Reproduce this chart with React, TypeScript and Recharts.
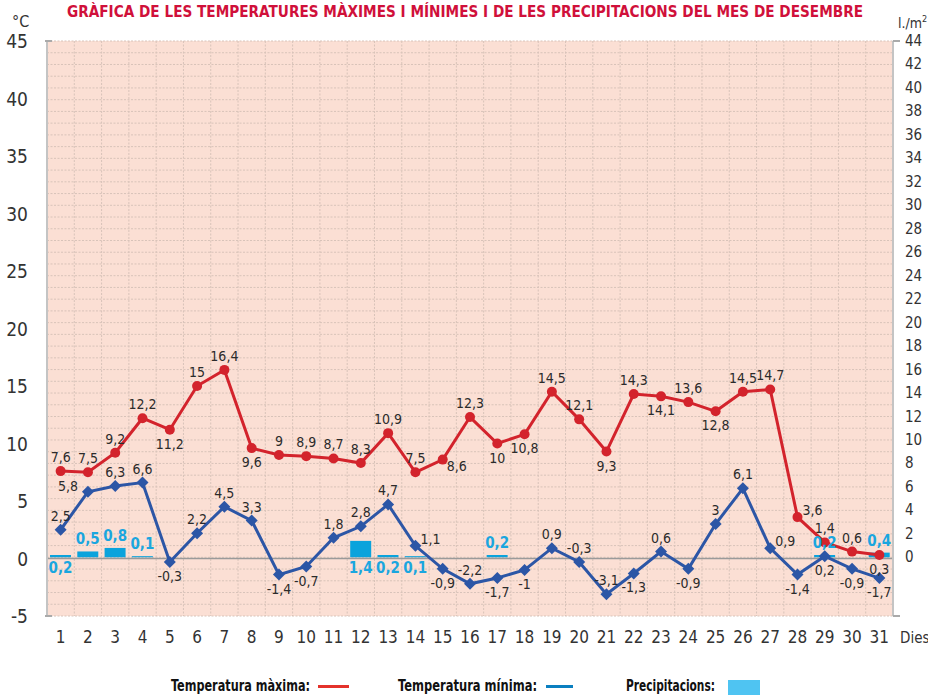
import React from 'react';
import { ComposedChart, Line, Bar, XAxis, YAxis, CartesianGrid, LabelList, ReferenceLine } from 'recharts';

const FONT = '"Liberation Sans Narrow", "DejaVu Sans Condensed", "Roboto", sans-serif';

const days = Array.from({ length: 31 }, (_, i) => String(i + 1));

const tempMax = [
  7.6, 7.5, 9.2, 12.2, 11.2, 15, 16.4, 9.6, 9, 8.9, 8.7, 8.3, 10.9, 7.5, 8.6, 12.3,
  10, 10.8, 14.5, 12.1, 9.3, 14.3, 14.1, 13.6, 12.8, 14.5, 14.7, 3.6, 1.4, 0.6, 0.3,
];

const tempMin = [
  2.5, 5.8, 6.3, 6.6, -0.3, 2.2, 4.5, 3.3, -1.4, -0.7, 1.8, 2.8, 4.7, 1.1, -0.9, -2.2,
  -1.7, -1, 0.9, -0.3, -3.1, -1.3, 0.6, -0.9, 3, 6.1, 0.9, -1.4, 0.2, -0.9, -1.7,
];

const precip = [
  0.2, 0.5, 0.8, 0.1, null, null, null, null, null, null, null, 1.4, 0.2, 0.1, null, null,
  0.2, null, null, null, null, null, null, null, null, null, null, null, 0.2, null, 0.4,
];

// label placement: a = above, b = below, r = right/up, s = right/down, l = left/up
const maxLabelPos = 'aaaabaabaaaaaasabbaabababaaraab';
const minLabelPos = 'alaabaaabbaaarbabbaaababaarbbbb';
const precipLabelBelow = ['1', '12', '13', '14'];

const leftTicks = [-5, 0, 5, 10, 15, 20, 25, 30, 35, 40, 45];
const rightTicks = Array.from({ length: 50 }, (_, i) => i - 5);

const data = days.map((d, i) => ({ day: d, max: tempMax[i], min: tempMin[i], precip: precip[i] }));

const fmt = (v: number) => String(v).replace('.', ',');

const makeTempLabel = (pos: string) => (props: any) => {
  const { value, index } = props;
  const vb = props.viewBox || {};
  const x = props.x ?? vb.x;
  const y = props.y ?? vb.y;
  if (value == null || x == null) return null;
  const p = pos[index];
  let dx = 0;
  let dy = -14;
  if (p === 'b') dy = 14;
  else if (p === 'r') { dx = 15; dy = -7; }
  else if (p === 's') { dx = 14; dy = 6; }
  else if (p === 'l') { dx = -20; dy = -6; }
  return (
    <text x={x + dx} y={y + dy} textAnchor="middle" dominantBaseline="central" fontSize={14} fill="#2b2b2b" fontFamily={FONT}>
      {fmt(value)}
    </text>
  );
};

const PrecipLabel = (props: any) => {
  const { x, y, width, height, value } = props;
  if (value == null || value.precip == null) return null;
  const below = precipLabelBelow.includes(value.day);
  const cy = below ? y + height + 11 : y - 12;
  return (
    <text x={x + width / 2} y={cy} textAnchor="middle" dominantBaseline="central" fontSize={15} fontWeight="bold" fill="#1aa6df" fontFamily={FONT}>
      {fmt(value.precip)}
    </text>
  );
};

const Diamond = (props: any) => {
  const { cx, cy } = props;
  if (cx == null || cy == null) return null;
  const r = 6;
  return <path d={`M${cx},${cy - r}L${cx + r},${cy}L${cx},${cy + r}L${cx - r},${cy}Z`} fill="#2c56a6" />;
};

const LeftTick = (props: any) => {
  const { x, y, payload } = props;
  const end = payload.value === -5 || payload.value === 45;
  return (
    <g>
      {end && <line x1={x + 17} x2={x + 24} y1={y} y2={y} stroke="#aaa" strokeWidth={2} />}
      <text x={x} y={y} textAnchor="end" dominantBaseline="central" fontSize={19} fill="#333" fontFamily={FONT}>
        {payload.value}
      </text>
    </g>
  );
};

const RightTick = (props: any) => {
  const { x, y, payload } = props;
  const v = payload.value;
  const end = v === -5 || v === 44;
  const show = v >= 0 && v % 2 === 0;
  return (
    <g>
      {end && <line x1={x - 12} x2={x - 5} y1={y} y2={y} stroke="#aaa" strokeWidth={2} />}
      {show && (
        <text x={x} y={y} textAnchor="start" dominantBaseline="central" fontSize={15} fill="#333" fontFamily={FONT}>
          {v}
        </text>
      )}
    </g>
  );
};

const XTick = (props: any) => {
  const { x, y, payload } = props;
  return (
    <text x={x} y={y} dy={19} textAnchor="middle" fontSize={17} fill="#333" fontFamily={FONT}>
      {payload.value}
    </text>
  );
};

const verticalLines = ({ offset }: any) => {
  const w = offset.width / days.length;
  return days.slice(1).map((_, i) => offset.left + w * (i + 1));
};

export default function App() {
  return (
    <div style={{ position: 'absolute', left: 0, top: 0, width: 928, height: 695, background: '#fff', overflow: 'hidden' }}>
      <ComposedChart width={928} height={695} data={data} margin={{ top: 41, right: 0, left: 0, bottom: 49 }}>
        <CartesianGrid
          yAxisId="right"
          fill="#fbdfd4"
          stroke="#d8c3b9"
          strokeDasharray="2 1.5"
          verticalCoordinatesGenerator={verticalLines}
        />
        <XAxis dataKey="day" interval={0} tickLine={false} axisLine={false} height={30} tick={<XTick />} />
        <YAxis
          yAxisId="left"
          domain={[-5, 45]}
          ticks={leftTicks}
          width={47}
          tickLine={false}
          tickMargin={13}
          axisLine={{ stroke: '#c4c4c4', strokeWidth: 2 }}
          tick={<LeftTick />}
        />
        <YAxis
          yAxisId="right"
          orientation="right"
          domain={[-5, 44]}
          ticks={rightTicks}
          interval={0}
          width={35}
          tickLine={false}
          tickMargin={6}
          axisLine={{ stroke: '#c4c4c4', strokeWidth: 2 }}
          tick={<RightTick />}
        />
        <ReferenceLine yAxisId="left" y={0} stroke="#9a9a9a" strokeWidth={1.5} />
        <Bar yAxisId="right" dataKey="precip" barSize={21} fill="#0ba3dc" isAnimationActive={false}>
          <LabelList dataKey={(e: any) => (e.precip == null ? null : e)} content={PrecipLabel} />
        </Bar>
        <Line
          yAxisId="left"
          type="linear"
          dataKey="max"
          stroke="#d3232c"
          strokeWidth={3}
          dot={{ r: 5, fill: '#d3232c', stroke: 'none' }}
          activeDot={false}
          isAnimationActive={false}
        >
          <LabelList dataKey="max" content={makeTempLabel(maxLabelPos)} />
        </Line>
        <Line
          yAxisId="left"
          type="linear"
          dataKey="min"
          stroke="#2c56a6"
          strokeWidth={3}
          dot={<Diamond />}
          activeDot={false}
          isAnimationActive={false}
        >
          <LabelList dataKey="min" content={makeTempLabel(minLabelPos)} />
        </Line>
      </ComposedChart>

      <svg width={928} height={695} style={{ position: 'absolute', left: 0, top: 0, pointerEvents: 'none' }} fontFamily={FONT}>
        <text x={67} y={17} fontSize={16} fontWeight="bold" fill="#d0103a" textLength={796} lengthAdjust="spacingAndGlyphs">
          GRÀFICA DE LES TEMPERATURES MÀXIMES I MÍNIMES I DE LES PRECIPITACIONS DEL MES DE DESEMBRE
        </text>
        <text x={12} y={27} fontSize={16} fill="#333">°C</text>
        <text x={898} y={28} fontSize={14} fill="#333">
          l./m<tspan fontSize={9} dy={-6}>2</tspan>
        </text>
        <text x={900} y={643} fontSize={15} fill="#333">Dies</text>

        <text x={171} y={691} fontSize={15} fontWeight="bold" fill="#111" textLength={139} lengthAdjust="spacingAndGlyphs">Temperatura màxima:</text>
        <rect x={318} y={685} width={31} height={3} fill="#e4322b" />
        <text x={398} y={691} fontSize={15} fontWeight="bold" fill="#111" textLength={139} lengthAdjust="spacingAndGlyphs">Temperatura mínima:</text>
        <rect x={546} y={685} width={27} height={3} fill="#0a7fc0" />
        <text x={626} y={691} fontSize={15} fontWeight="bold" fill="#111" textLength={89} lengthAdjust="spacingAndGlyphs">Precipitacions:</text>
        <rect x={728} y={680} width={32} height={15} fill="#4fc4f2" />
      </svg>
    </div>
  );
}
